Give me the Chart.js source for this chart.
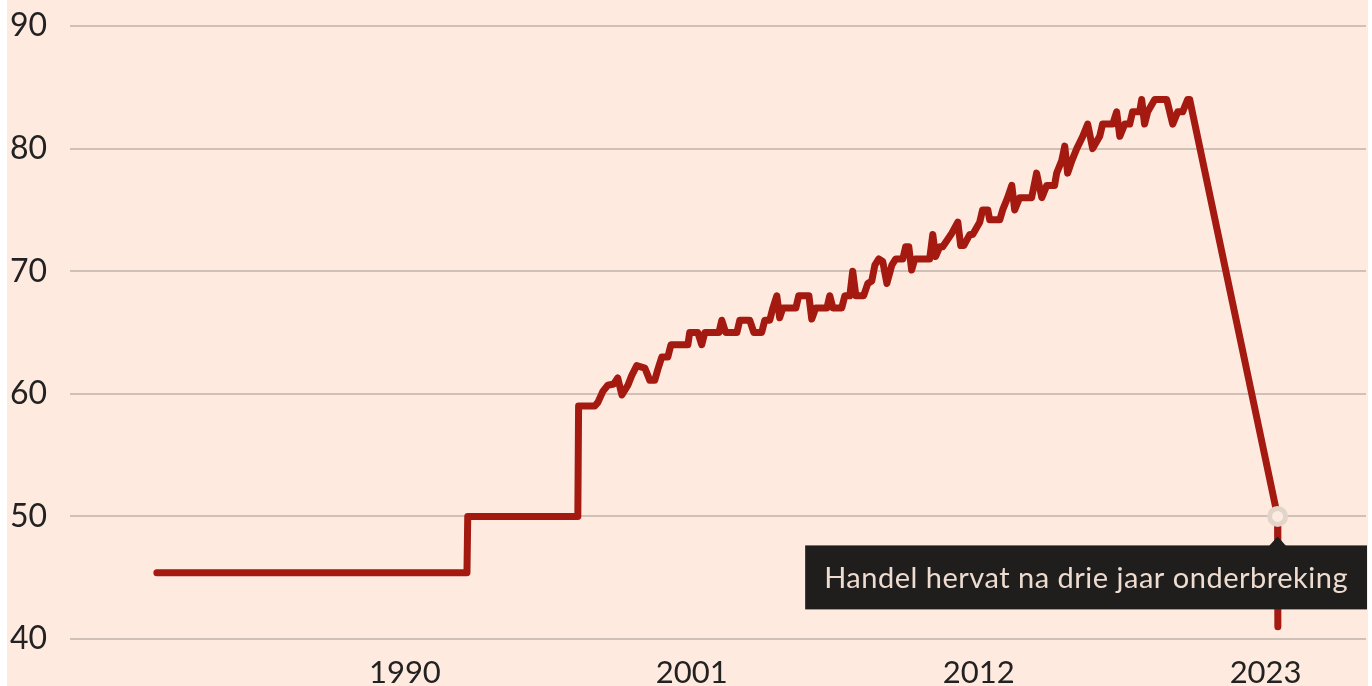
<!DOCTYPE html>
<html>
<head>
    <title>Handel hervat</title>
    <script src="https://cdn.jsdelivr.net/npm/chart.js"></script>
    <style>
        body { margin: 0; background: #fff; }
        #wrap { position: absolute; left: 7px; top: 0; width: 1361px; height: 686px; background: #ffeadf; }
    </style>
</head>
<body>
    <div id="wrap">
        <canvas id="priceChart"></canvas>
    </div>

    <script>
        // data (decimal year, value)
        const years = [
            1980.49, 1992.38, 1992.41, 1996.63, 1996.66, 1997.28, 1997.40, 1997.59, 1997.78, 1998.01,
            1998.16, 1998.32, 1998.55, 1998.70, 1998.89, 1999.20, 1999.39, 1999.58, 1999.70, 1999.85,
            2000.08, 2000.20, 2000.85, 2000.92, 2001.23, 2001.38, 2001.50, 2002.04, 2002.15, 2002.30,
            2002.73, 2002.84, 2003.22, 2003.38, 2003.68, 2003.80, 2003.99, 2004.11, 2004.26, 2004.37,
            2004.49, 2004.99, 2005.10, 2005.49, 2005.60, 2005.75, 2006.18, 2006.29, 2006.41, 2006.75,
            2006.87, 2007.06, 2007.17, 2007.29, 2007.59, 2007.75, 2007.90, 2008.02, 2008.17, 2008.32,
            2008.48, 2008.67, 2008.82, 2009.09, 2009.20, 2009.32, 2009.43, 2009.55, 2010.12, 2010.24,
            2010.35, 2010.51, 2010.62, 2010.97, 2011.20, 2011.31, 2011.43, 2011.66, 2011.77, 2012.04,
            2012.15, 2012.35, 2012.42, 2012.81, 2012.92, 2013.11, 2013.27, 2013.38, 2013.57, 2014.03,
            2014.22, 2014.42, 2014.61, 2014.91, 2014.99, 2015.18, 2015.30, 2015.41, 2015.57, 2015.76,
            2015.99, 2016.18, 2016.37, 2016.64, 2016.75, 2017.14, 2017.29, 2017.41, 2017.60, 2017.79,
            2017.90, 2018.17, 2018.25, 2018.36, 2018.48, 2018.75, 2019.21, 2019.44, 2019.63, 2019.82,
            2020.01, 2020.09, 2023.46, 2023.47
        ];
        const values = [
            45.4, 45.4, 50, 50, 59, 59, 59.3, 60.2, 60.7, 60.8,
            61.3, 59.9, 60.7, 61.5, 62.3, 62.1, 61.1, 61.1, 62, 63,
            63, 64, 64, 65, 65, 64, 65, 65, 66, 65,
            65, 66, 66, 65, 65, 66, 66, 67, 68, 66.2,
            67, 67, 68, 68, 66.1, 67, 67, 68, 67, 67,
            68, 68, 70, 68, 68, 69, 69.2, 70.5, 71, 70.8,
            69, 70.5, 71, 71, 72, 72, 70.1, 71, 71, 73,
            71.2, 72, 72, 73.1, 74, 72.1, 72.1, 73, 73, 74,
            75, 75, 74.2, 74.2, 75, 76, 77, 75, 76, 76,
            78, 76, 77, 77, 78, 79, 80.2, 78, 79, 80,
            81, 82, 80, 81, 82, 82, 83, 81, 82, 82,
            83, 83, 84, 82, 83, 84, 84, 82, 83, 83,
            84, 84, 50, 41
        ];
        const xTicks = [1990, 2001, 2012, 2023];
        const yTicks = [40, 50, 60, 70, 80, 90];

        const noteYear = 2023.46;
        const noteValue = 50;
        const noteText = 'Handel hervat na drie jaar onderbreking';

        const fontFamily = 'Lato, "Open Sans", sans-serif';

        const noteBox = {
            id: 'noteBox',
            afterDatasetsDraw(chart) {
                const ctx = chart.ctx;
                const px = chart.scales.x.getPixelForValue(noteYear);
                const py = chart.scales.y.getPixelForValue(noteValue);
                ctx.save();
                ctx.font = '29px ' + fontFamily;
                ctx.letterSpacing = '0.5px';
                const tw = ctx.measureText(noteText).width;
                const right = chart.chartArea.right + 1;
                const left = right - tw - 38;
                const top = py + 29;
                const h = 64;
                ctx.fillStyle = '#1f1e1c';
                ctx.fillRect(left, top, right - left, h);
                ctx.beginPath();
                ctx.moveTo(px - 9, top + 1);
                ctx.lineTo(px, top - 9);
                ctx.lineTo(px + 9, top + 1);
                ctx.closePath();
                ctx.fill();
                ctx.fillStyle = '#eedcd0';
                ctx.textBaseline = 'middle';
                ctx.fillText(noteText, left + 19, top + h / 2 + 1);
                ctx.restore();
            }
        };

        new Chart(document.getElementById('priceChart'), {
            type: 'line',
            data: {
                datasets: [{
                    data: [{ x: noteYear, y: noteValue }],
                    showLine: false,
                    pointRadius: 8,
                    pointBorderWidth: 5,
                    pointBackgroundColor: '#fcebe1',
                    pointBorderColor: '#e3d4ca',
                    order: 0
                }, {
                    data: years.map((yr, i) => ({ x: yr, y: values[i] })),
                    borderColor: '#a41a11',
                    borderWidth: 7,
                    borderJoinStyle: 'round',
                    borderCapStyle: 'round',
                    pointRadius: 0,
                    tension: 0,
                    order: 1
                }]
            },
            options: {
                responsive: true,
                maintainAspectRatio: false,
                animation: false,
                layout: { autoPadding: false, padding: { left: 3, top: 26, right: 2, bottom: 0 } },
                plugins: {
                    legend: { display: false },
                    tooltip: { enabled: false }
                },
                scales: {
                    x: {
                        type: 'linear',
                        min: 1977.16,
                        max: 2026.85,
                        afterBuildTicks: s => { s.ticks = xTicks.map(v => ({ value: v })); },
                        afterFit: s => { s.height = 47; },
                        grid: { display: false },
                        border: { display: false },
                        ticks: {
                            color: '#222',
                            font: { family: fontFamily, size: 31 },
                            padding: 7,
                            maxRotation: 0,
                            callback: v => String(v)
                        }
                    },
                    y: {
                        min: 40,
                        max: 90,
                        afterBuildTicks: s => { s.ticks = yTicks.map(v => ({ value: v })); },
                        afterFit: s => { s.width = 60; },
                        grid: { color: '#cfc1b7', lineWidth: 2, drawTicks: false },
                        border: { display: false },
                        ticks: {
                            color: '#222',
                            font: { family: fontFamily, size: 32 },
                            crossAlign: 'far',
                            padding: 0
                        }
                    }
                }
            },
            plugins: [noteBox]
        });
    </script>
</body>
</html>
